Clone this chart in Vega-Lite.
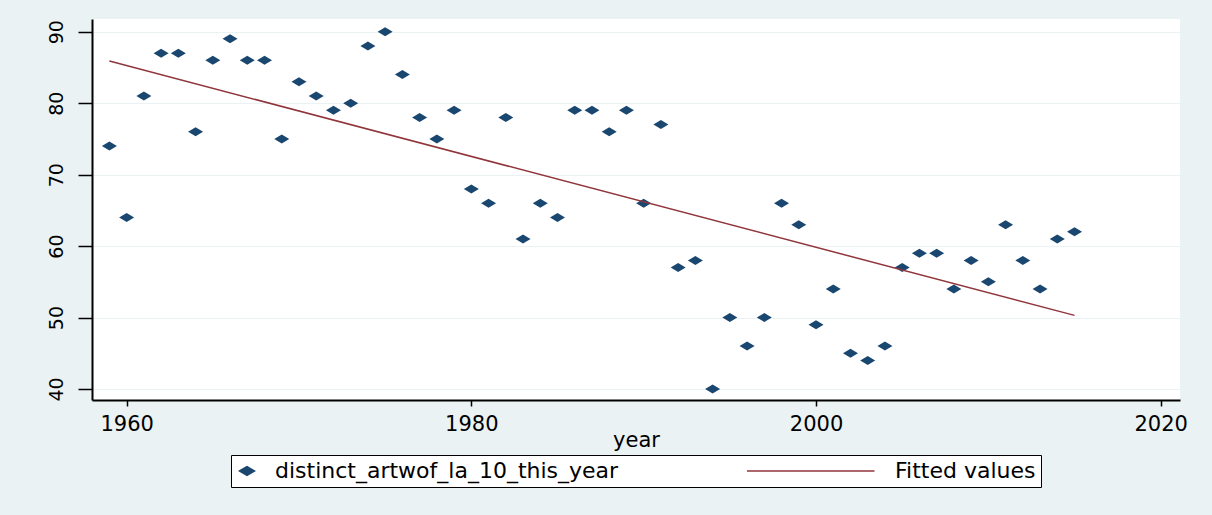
{
  "$schema": "https://vega.github.io/schema/vega-lite/v6.json",
  "width": 1088,
  "height": 381,
  "autosize": "none",
  "padding": {"left": 92, "top": 19, "right": 32, "bottom": 115},
  "background": "#EAF2F3",
  "config": {
    "view": {"fill": "white", "stroke": null},
    "font": "DejaVu Sans",
    "legend": {"layout": {"bottom": {"anchor": "middle"}}}
  },
  "datasets": {
    "points": [
      {"year": 1959, "value": 74, "series": "distinct_artwof_la_10_this_year"},
      {"year": 1960, "value": 64, "series": "distinct_artwof_la_10_this_year"},
      {"year": 1961, "value": 81, "series": "distinct_artwof_la_10_this_year"},
      {"year": 1962, "value": 87, "series": "distinct_artwof_la_10_this_year"},
      {"year": 1963, "value": 87, "series": "distinct_artwof_la_10_this_year"},
      {"year": 1964, "value": 76, "series": "distinct_artwof_la_10_this_year"},
      {"year": 1965, "value": 86, "series": "distinct_artwof_la_10_this_year"},
      {"year": 1966, "value": 89, "series": "distinct_artwof_la_10_this_year"},
      {"year": 1967, "value": 86, "series": "distinct_artwof_la_10_this_year"},
      {"year": 1968, "value": 86, "series": "distinct_artwof_la_10_this_year"},
      {"year": 1969, "value": 75, "series": "distinct_artwof_la_10_this_year"},
      {"year": 1970, "value": 83, "series": "distinct_artwof_la_10_this_year"},
      {"year": 1971, "value": 81, "series": "distinct_artwof_la_10_this_year"},
      {"year": 1972, "value": 79, "series": "distinct_artwof_la_10_this_year"},
      {"year": 1973, "value": 80, "series": "distinct_artwof_la_10_this_year"},
      {"year": 1974, "value": 88, "series": "distinct_artwof_la_10_this_year"},
      {"year": 1975, "value": 90, "series": "distinct_artwof_la_10_this_year"},
      {"year": 1976, "value": 84, "series": "distinct_artwof_la_10_this_year"},
      {"year": 1977, "value": 78, "series": "distinct_artwof_la_10_this_year"},
      {"year": 1978, "value": 75, "series": "distinct_artwof_la_10_this_year"},
      {"year": 1979, "value": 79, "series": "distinct_artwof_la_10_this_year"},
      {"year": 1980, "value": 68, "series": "distinct_artwof_la_10_this_year"},
      {"year": 1981, "value": 66, "series": "distinct_artwof_la_10_this_year"},
      {"year": 1982, "value": 78, "series": "distinct_artwof_la_10_this_year"},
      {"year": 1983, "value": 61, "series": "distinct_artwof_la_10_this_year"},
      {"year": 1984, "value": 66, "series": "distinct_artwof_la_10_this_year"},
      {"year": 1985, "value": 64, "series": "distinct_artwof_la_10_this_year"},
      {"year": 1986, "value": 79, "series": "distinct_artwof_la_10_this_year"},
      {"year": 1987, "value": 79, "series": "distinct_artwof_la_10_this_year"},
      {"year": 1988, "value": 76, "series": "distinct_artwof_la_10_this_year"},
      {"year": 1989, "value": 79, "series": "distinct_artwof_la_10_this_year"},
      {"year": 1990, "value": 66, "series": "distinct_artwof_la_10_this_year"},
      {"year": 1991, "value": 77, "series": "distinct_artwof_la_10_this_year"},
      {"year": 1992, "value": 57, "series": "distinct_artwof_la_10_this_year"},
      {"year": 1993, "value": 58, "series": "distinct_artwof_la_10_this_year"},
      {"year": 1994, "value": 40, "series": "distinct_artwof_la_10_this_year"},
      {"year": 1995, "value": 50, "series": "distinct_artwof_la_10_this_year"},
      {"year": 1996, "value": 46, "series": "distinct_artwof_la_10_this_year"},
      {"year": 1997, "value": 50, "series": "distinct_artwof_la_10_this_year"},
      {"year": 1998, "value": 66, "series": "distinct_artwof_la_10_this_year"},
      {"year": 1999, "value": 63, "series": "distinct_artwof_la_10_this_year"},
      {"year": 2000, "value": 49, "series": "distinct_artwof_la_10_this_year"},
      {"year": 2001, "value": 54, "series": "distinct_artwof_la_10_this_year"},
      {"year": 2002, "value": 45, "series": "distinct_artwof_la_10_this_year"},
      {"year": 2003, "value": 44, "series": "distinct_artwof_la_10_this_year"},
      {"year": 2004, "value": 46, "series": "distinct_artwof_la_10_this_year"},
      {"year": 2005, "value": 57, "series": "distinct_artwof_la_10_this_year"},
      {"year": 2006, "value": 59, "series": "distinct_artwof_la_10_this_year"},
      {"year": 2007, "value": 59, "series": "distinct_artwof_la_10_this_year"},
      {"year": 2008, "value": 54, "series": "distinct_artwof_la_10_this_year"},
      {"year": 2009, "value": 58, "series": "distinct_artwof_la_10_this_year"},
      {"year": 2010, "value": 55, "series": "distinct_artwof_la_10_this_year"},
      {"year": 2011, "value": 63, "series": "distinct_artwof_la_10_this_year"},
      {"year": 2012, "value": 58, "series": "distinct_artwof_la_10_this_year"},
      {"year": 2013, "value": 54, "series": "distinct_artwof_la_10_this_year"},
      {"year": 2014, "value": 61, "series": "distinct_artwof_la_10_this_year"},
      {"year": 2015, "value": 62, "series": "distinct_artwof_la_10_this_year"}
    ],
    "fit": [
      {"year": 1959, "value": 85.9, "series": "Fitted values"},
      {"year": 2015, "value": 50.3, "series": "Fitted values"}
    ]
  },
  "layer": [
    {
      "data": {"name": "points"},
      "mark": {"type": "point", "filled": true, "opacity": 1, "size": 225},
      "encoding": {
        "x": {
          "field": "year", "type": "quantitative",
          "scale": {"domain": [1957.99, 2021.12], "nice": false, "zero": false},
          "axis": {
            "values": [1960, 1980, 2000, 2020], "format": "d", "title": "year",
            "grid": false, "domainColor": "#000", "domainWidth": 2,
            "tickColor": "#000", "tickWidth": 1.5, "tickSize": 6,
            "labelFontSize": 21, "labelColor": "#000", "labelPadding": 7, "labelFlush": false,
            "titleFontSize": 21, "titleFontWeight": "normal", "titleColor": "#000", "titlePadding": -5
          }
        },
        "y": {
          "field": "value", "type": "quantitative",
          "scale": {"domain": [38.46, 91.78], "nice": false, "zero": false},
          "axis": {
            "values": [40, 50, 60, 70, 80, 90], "title": null,
            "grid": true, "gridColor": "#EAF2F3", "gridWidth": 1.2,
            "domainColor": "#000", "domainWidth": 2,
            "tickColor": "#000", "tickWidth": 1.5, "tickSize": 14,
            "labelAngle": 270, "labelAlign": "center", "labelBaseline": "bottom",
            "labelFontSize": 19, "labelColor": "#000", "labelPadding": 12, "labelFlush": false
          }
        },
        "color": {
          "field": "series", "type": "nominal",
          "scale": {"domain": ["distinct_artwof_la_10_this_year", "Fitted values"], "range": ["#1a476f", "#90353b"]},
          "legend": {
            "title": null, "orient": "bottom", "direction": "horizontal", "offset": 5,
            "strokeColor": "#000", "fillColor": "white", "padding": 5,
            "labelFontSize": 22, "labelColor": "#000", "labelOffset": 17, "labelLimit": 0,
            "symbolSize": 225, "columnPadding": 125, "symbolStrokeWidth": 1.5,
            "encode": {"symbols": {"update": {"stroke": {"scale": "color", "field": "value"}, "strokeWidth": {"value": 1.5}}}}
          }
        },
        "shape": {
          "field": "series", "type": "nominal",
          "scale": {"domain": ["distinct_artwof_la_10_this_year", "Fitted values"], "range": ["M-1,0L0,-0.6L1,0L0,0.6Z", "M-16,0H1"]},
          "legend": {
            "title": null, "orient": "bottom", "direction": "horizontal", "offset": 5,
            "strokeColor": "#000", "fillColor": "white", "padding": 5,
            "labelFontSize": 22, "labelColor": "#000", "labelOffset": 17, "labelLimit": 0,
            "symbolSize": 225, "columnPadding": 125, "symbolStrokeWidth": 1.5,
            "encode": {"symbols": {"update": {"stroke": {"scale": "color", "field": "value"}, "strokeWidth": {"value": 1.5}}}}
          }
        }
      }
    },
    {
      "data": {"name": "fit"},
      "mark": {"type": "line", "strokeWidth": 1.5},
      "encoding": {
        "x": {"field": "year", "type": "quantitative"},
        "y": {"field": "value", "type": "quantitative"},
        "color": {"field": "series", "type": "nominal"}
      }
    }
  ]
}
